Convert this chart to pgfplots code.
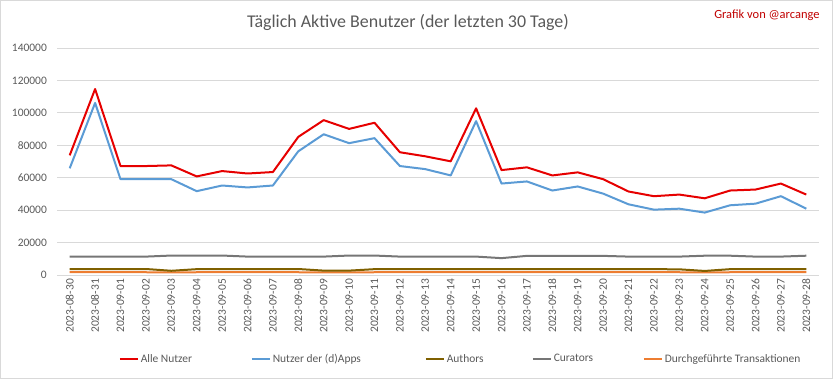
\documentclass[border=0pt]{standalone}
\usepackage{fontspec}
\setmainfont{Carlito}
\usepackage{pgfplots}
\pgfplotsset{compat=1.18}
\definecolor{cRed}{HTML}{E60000}
\definecolor{cBlue}{HTML}{5B9BD5}
\definecolor{cAuth}{HTML}{7F6000}
\definecolor{cCur}{HTML}{767676}
\definecolor{cOra}{HTML}{ED7D31}
\definecolor{cTxt}{HTML}{595959}
\definecolor{cGrid}{HTML}{D9D9D9}
\definecolor{cMark}{HTML}{C00000}
\begin{document}
\begin{tikzpicture}[x=1bp,y=1bp]
\useasboundingbox (0,0) rectangle (833,379);
\draw[cGrid, line width=0.8bp] (0.5,0.5) rectangle (832.5,378.5);
\node[text=cTxt, font=\fontsize{18}{20}\selectfont] at (408,357) {Täglich Aktive Benutzer (der letzten 30 Tage)};
\node[text=cMark, font=\fontsize{12.5}{14}\selectfont, anchor=east] at (823,364) {Grafik von @arcange};
\begin{axis}[
  at={(57bp,104bp)}, anchor=south west,
  scale only axis, width=762bp, height=227bp,
  xmin=-0.5, xmax=29.5, ymin=0, ymax=140000,
  axis line style={draw=none},
  major tick style={draw=none},
  ytick={0,20000,...,140000},
  ymajorgrids, grid style={cGrid, line width=0.8bp},
  xtick={0,...,29},
  xticklabels={2023-08-30,2023-08-31,2023-09-01,2023-09-02,2023-09-03,2023-09-04,2023-09-05,2023-09-06,2023-09-07,2023-09-08,2023-09-09,2023-09-10,2023-09-11,2023-09-12,2023-09-13,2023-09-14,2023-09-15,2023-09-16,2023-09-17,2023-09-18,2023-09-19,2023-09-20,2023-09-21,2023-09-22,2023-09-23,2023-09-24,2023-09-25,2023-09-26,2023-09-27,2023-09-28},
  scaled y ticks=false,
  yticklabel style={/pgf/number format/.cd, fixed, precision=0, 1000 sep={}, assume math mode=true, /tikz/.cd, text=cTxt, font=\fontsize{11.5}{13}\selectfont, inner sep=0pt, xshift=-10bp, anchor=east},
  xticklabel style={yshift=-4bp, rotate=90, anchor=east, text=cTxt, font=\fontsize{11.5}{13}\selectfont, inner sep=0pt},
  legend columns=5,
  legend style={draw=none, fill=none, at={(0.529,-0.37)}, anchor=center,
    font=\fontsize{11.5}{13}\selectfont, text=cTxt,
    column sep=0pt, nodes={inner sep=1bp},
    /tikz/every odd column/.append style={column sep=1bp}},
  legend image code/.code={\draw[#1, line width=2bp] (0bp,0bp) -- (18bp,0bp);},
  every axis plot/.append style={line width=2bp, line join=round},
]
\addplot[cRed, mark=none] coordinates {
(0,73800)(1,114700)(2,67200)(3,67200)(4,67600)(5,60800)(6,64100)(7,62600)(8,63500)(9,85200)
(10,95500)(11,90100)(12,93900)(13,75700)(14,73200)(15,70100)(16,102800)(17,64700)(18,66400)(19,61400)
(20,63300)(21,59100)(22,51500)(23,48600)(24,49600)(25,47300)(26,52100)(27,52700)(28,56400)(29,49600)};
\addlegendentry{\makebox[109bp][l]{Alle Nutzer}}
\addplot[cBlue, mark=none] coordinates {
(0,65800)(1,106100)(2,59100)(3,59100)(4,59100)(5,51700)(6,55200)(7,54000)(8,55200)(9,76300)
(10,86800)(11,81300)(12,84400)(13,67200)(14,65300)(15,61400)(16,94900)(17,56400)(18,57700)(19,52100)
(20,54600)(21,50200)(22,43600)(23,40300)(24,40900)(25,38500)(26,43000)(27,44000)(28,48600)(29,40900)};
\addlegendentry{\makebox[151bp][l]{Nutzer der (d)Apps}}
\addplot[cOra, mark=none, forget plot] coordinates {
(0,1700)(1,1700)(2,1700)(3,1700)(4,1600)(5,1700)(6,1700)(7,1700)(8,1700)(9,1700)
(10,1600)(11,1600)(12,1700)(13,1700)(14,1700)(15,1700)(16,1700)(17,1700)(18,1700)(19,1700)
(20,1700)(21,1700)(22,1700)(23,1700)(24,1700)(25,1600)(26,1700)(27,1700)(28,1700)(29,1700)};
\addplot[cAuth, mark=none] coordinates {
(0,3700)(1,3700)(2,3700)(3,3700)(4,2600)(5,3600)(6,3700)(7,3700)(8,3700)(9,3700)
(10,2700)(11,2700)(12,3600)(13,3700)(14,3700)(15,3700)(16,3700)(17,3700)(18,3700)(19,3700)
(20,3700)(21,3700)(22,3700)(23,3600)(24,3500)(25,2500)(26,3600)(27,3700)(28,3700)(29,3700)};
\addlegendentry{\makebox[84bp][l]{Authors}}
\addplot[cCur, mark=none] coordinates {
(0,11350)(1,11350)(2,11350)(3,11350)(4,12000)(5,12000)(6,12000)(7,11350)(8,11350)(9,11350)
(10,11350)(11,12000)(12,12000)(13,11350)(14,11350)(15,11350)(16,11350)(17,10400)(18,11800)(19,11800)
(20,11800)(21,11800)(22,11350)(23,11350)(24,11350)(25,11900)(26,11900)(27,11350)(28,11350)(29,11900)};
\addlegendentry{\makebox[88bp][l]{Curators}}
\addlegendimage{cOra, line width=2bp}
\addlegendentry{Durchgeführte Transaktionen}
\end{axis}
\end{tikzpicture}
\end{document}
